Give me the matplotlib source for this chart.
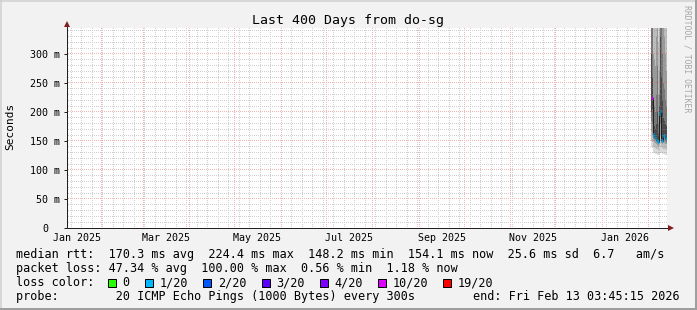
import matplotlib
matplotlib.use("Agg")
import matplotlib.pyplot as plt
import matplotlib.dates as mdates
import matplotlib.transforms as mtransforms
from matplotlib.patches import Rectangle
from matplotlib.lines import Line2D
import numpy as np
import pandas as pd

W, H = 697, 310
FONT = "DejaVu Sans Mono"

# ---------------- texts ----------------
title = "Last 400 Days from do-sg"
ylabel = "Seconds"
watermark = "RRDTOOL / TOBI OETIKER"
end_time = pd.Timestamp("2026-02-13 03:45:15")
start_time = end_time - pd.Timedelta(days=400)

xlabel_dates = ["2025-01-16", "2025-03-16", "2025-05-16", "2025-07-16",
                "2025-09-16", "2025-11-16", "2026-01-16"]
xlabel_texts = ["Jan 2025", "Mar 2025", "May 2025", "Jul 2025",
                "Sep 2025", "Nov 2025", "Jan 2026"]

ytick_vals = [0.0, 0.05, 0.10, 0.15, 0.20, 0.25, 0.30]
ytick_texts = ["0", "50 m", "100 m", "150 m", "200 m", "250 m", "300 m"]
y_max = 0.3448

legend_row1 = "median rtt:  170.3 ms avg  224.4 ms max  148.2 ms min  154.1 ms now  25.6 ms sd  6.7   am/s"
legend_row2 = "packet loss: 47.34 % avg  100.00 % max  0.56 % min  1.18 % now"
legend_row3 = "loss color:"
legend_row4 = "probe:        20 ICMP Echo Pings (1000 Bytes) every 300s"
legend_end = "end: Fri Feb 13 03:45:15 2026"

loss_labels = ["0", "1/20", "2/20", "3/20", "4/20", "10/20", "19/20"]
loss_colors = ["#26ff00", "#00b8ff", "#0059ff", "#5e00ff", "#7e00ff", "#dd00ff", "#ff0000"]
loss_thresholds = [0, 1, 2, 3, 4, 10, 19]

# ---------------- data (ms), 16-hour consolidated steps ----------------
step_start = "2026-02-02 12:00"
median_ms = [224.4, 224.4, 162.0, 158.0, 155.0, 151.5, 149.8, 148.2,
             196.0, 201.0, 152.0, 150.5, 158.0, 160.5, 156.0, 154.1]
loss_count = [10, 10, 1, 1, 1, 1, 1, 1, 1, 1, 1, 1, 1, 1, 1, 1]

smoke_lo_1 = [140, 138, 130, 130, 128, 127, 126, 125, 128, 130, 130, 128, 127, 127, 126, 126]
smoke_lo_2 = [150, 148, 140, 140, 138, 137, 136, 134, 140, 145, 140, 138, 137, 137, 136, 135]
smoke_lo_3 = [165, 160, 150, 148, 146, 144, 143, 141, 150, 160, 146, 144, 146, 147, 145, 144]
smoke_lo_4 = [185, 180, 156, 153, 151, 148, 147, 145, 170, 180, 149, 148, 152, 153, 150, 149]
smoke_lo_5 = [200, 205, 160, 156, 153, 150, 149, 147, 185, 192, 151, 150, 155, 157, 152, 152]
smoke_hi_5 = [300, 260, 185, 175, 170, 180, 200, 162, 210, 330, 260, 220, 190, 185, 180, 175]
smoke_hi_4 = [500, 360, 220, 210, 200, 230, 280, 180, 230, 500, 380, 300, 250, 240, 220, 210]
smoke_hi_3 = [500, 500, 300, 290, 280, 330, 420, 230, 270, 500, 500, 450, 350, 330, 300, 270]
smoke_hi_2 = [500, 500, 500, 450, 420, 500, 500, 320, 360, 500, 500, 500, 500, 480, 450, 380]
smoke_hi_1 = [500, 500, 500, 500, 500, 500, 500, 500, 500, 500, 500, 500, 500, 500, 500, 500]

# ---------------- colours ----------------
BACK = "#f2f2f2"
CANVAS = "#ffffff"
SHADEA = "#cfcfcf"
SHADEB = "#9e9e9e"
GRID = (0.56, 0.56, 0.56, 0.42)
MGRID = (0.87, 0.31, 0.31, 0.42)
ARROW = "#801f1f"
AXIS = "#1f1f1f"
SMOKE = ["#dadada", "#bdbdbd", "#9a9a9a", "#767676", "#4a4a4a"]

PX = 72.0 / 100.0  # one pixel in points

fig = plt.figure(figsize=(W / 100, H / 100), dpi=100, facecolor=BACK)


def fx(x):
    return x / W


def fy(y):
    return 1 - y / H


AX_L, AX_T, AX_W, AX_H = 67, 28, 600, 200
ax = fig.add_axes([fx(AX_L), fy(AX_T + AX_H), AX_W / W, AX_H / H])
ax.set_facecolor(CANVAS)
for s in ax.spines.values():
    s.set_visible(False)

x0 = mdates.date2num(start_time)
x1 = mdates.date2num(end_time)
ax.set_xlim(x0, x1)
ax.set_ylim(0, y_max)
ax.set_xticks([])
ax.set_yticks(ytick_vals)
ax.tick_params(axis="y", which="major", length=3 * PX, width=PX, color=AXIS,
               direction="out", labelleft=False)

# ---- dotted grid rendered pixel-exact, positions from the axes transform ----
maj_x = mdates.date2num(pd.date_range(start_time.normalize(), end_time, freq="MS"))
min_x = mdates.date2num(pd.date_range(start_time.normalize(), end_time, freq="W-SUN"))
maj_y = np.arange(0.05, y_max, 0.05)
min_y = np.arange(0.01, y_max, 0.01)

grid_img = np.zeros((AX_H, AX_W, 4))


def col_of(xv):
    d = ax.transData.transform((xv, 0))[0]
    return int(np.floor(d + 1e-6)) - AX_L


def row_of(yv):
    d = ax.transData.transform((x0, yv))[1]
    return int(np.floor((H - d) + 1e-6)) - AX_T


rows = np.arange(AX_H)
cols = np.arange(AX_W)
for xv in min_x:
    c = col_of(xv)
    if 0 < c < AX_W:
        grid_img[rows[rows % 2 == 0], c] = GRID
for yv in min_y:
    r = row_of(yv)
    if 0 <= r < AX_H - 1:
        grid_img[r, cols[cols % 2 == 1]] = GRID
for xv in maj_x:
    c = col_of(xv)
    if 0 < c < AX_W:
        grid_img[rows[rows % 2 == 0], c] = MGRID
for yv in maj_y:
    r = row_of(yv)
    if 0 <= r < AX_H - 1:
        grid_img[r, cols[cols % 2 == 1]] = MGRID
ax.imshow(grid_img, extent=(x0, x1, 0, y_max), origin="upper", aspect="auto",
          interpolation="nearest", zorder=2.5)

# smoke
edges = mdates.date2num(pd.date_range(step_start, periods=len(median_ms) + 1, freq="16h"))
los = [smoke_lo_1, smoke_lo_2, smoke_lo_3, smoke_lo_4, smoke_lo_5]
his = [smoke_hi_1, smoke_hi_2, smoke_hi_3, smoke_hi_4, smoke_hi_5]
for lo, hi, col in zip(los, his, SMOKE):
    ax.stairs(np.array(hi) / 1000.0, edges, baseline=np.array(lo) / 1000.0,
              fill=True, color=col, linewidth=0, zorder=1)

# median line
med = np.array(median_ms) / 1000.0
ax.stairs(med, edges, baseline=None, color="#202020", linewidth=PX, zorder=3)
seg_colors = []
for lc in loss_count:
    idx = max(i for i, t in enumerate(loss_thresholds) if lc >= t)
    seg_colors.append(loss_colors[idx])
ax.hlines(med, edges[:-1], edges[1:], colors=seg_colors, linewidth=3 * PX, zorder=3.2)

ax.set_xlim(x0, x1)
ax.set_ylim(0, y_max)

# axes lines and arrows
ax.plot([0, 1.004], [0, 0], transform=ax.transAxes, color=AXIS, lw=PX,
        clip_on=False, zorder=4, solid_capstyle="butt")
ax.plot([0, 0], [0, 1.01], transform=ax.transAxes, color=AXIS, lw=PX,
        clip_on=False, zorder=4, solid_capstyle="butt")
ax.plot([1.0065], [0], marker=">", markersize=4.2, color=ARROW, transform=ax.transAxes,
        clip_on=False, zorder=5, markeredgewidth=0)
ax.plot([0], [1.02], marker="^", markersize=4.2, color=ARROW, transform=ax.transAxes,
        clip_on=False, zorder=5, markeredgewidth=0)

# y tick labels
ytrans = ax.get_yaxis_transform()
for v, t in zip(ytick_vals, ytick_texts):
    shift = -7 if t.endswith("m") else -19
    tr = mtransforms.offset_copy(ytrans, fig=fig, x=shift, y=0, units="dots")
    ax.text(0, v, t, transform=tr, ha="right", va="center_baseline",
            fontsize=7.2, family=FONT, color="black")

# x tick labels
xtrans = ax.get_xaxis_transform()
trx = mtransforms.offset_copy(xtrans, fig=fig, x=0, y=-13, units="dots")
for d, t in zip(xlabel_dates, xlabel_texts):
    ax.text(mdates.date2num(pd.Timestamp(d)), 0, t, transform=trx, ha="center",
            va="baseline", fontsize=7.2, family=FONT, color="black")

# titles
fig.text(fx(348.5), fy(24), title, ha="center", va="baseline", fontsize=9.53, family=FONT)
fig.text(fx(10), fy(126), ylabel, ha="center", va="center", rotation=90,
         fontsize=8.0, family=FONT)
fig.text(fx(687), fy(59), watermark, ha="center", va="center", rotation=270,
         fontsize=5.9, family=FONT, color="#a6a6a6")

# legend
CW = 7.1
LX = 16
fs = 8.5
fig.text(fx(LX), fy(258), legend_row1, ha="left", va="baseline", fontsize=fs, family=FONT)
fig.text(fx(LX), fy(272), legend_row2, ha="left", va="baseline", fontsize=fs, family=FONT)
fig.text(fx(LX), fy(286), legend_row3, ha="left", va="baseline", fontsize=fs, family=FONT)
fig.text(fx(LX), fy(300), legend_row4, ha="left", va="baseline", fontsize=fs, family=FONT)
fig.text(fx(680), fy(300), legend_end, ha="right", va="baseline", fontsize=fs, family=FONT)

cursor = 13.0
for lab, col in zip(loss_labels, loss_colors):
    bx = LX + cursor * CW
    fig.add_artist(Rectangle((fx(bx), fy(286.5)), 8 / W, 8 / H, transform=fig.transFigure,
                             facecolor=col, edgecolor="black", linewidth=PX))
    tx = cursor + 2.0
    fig.text(fx(LX + tx * CW), fy(286), lab, ha="left", va="baseline", fontsize=fs, family=FONT)
    cursor = tx + len(lab) + 2.2

# 3D frame
fig.add_artist(Line2D([0, 1], [fy(0.75), fy(0.75)], transform=fig.transFigure, color=SHADEA, lw=1.5 * PX))
fig.add_artist(Line2D([fx(0.75), fx(0.75)], [0, 1], transform=fig.transFigure, color=SHADEA, lw=1.5 * PX))
fig.add_artist(Line2D([0, 1], [fy(309), fy(309)], transform=fig.transFigure, color=SHADEB, lw=2 * PX))
fig.add_artist(Line2D([fx(696), fx(696)], [0, 1], transform=fig.transFigure, color=SHADEB, lw=2 * PX))

fig.savefig("out.png", dpi=100, facecolor=BACK)
